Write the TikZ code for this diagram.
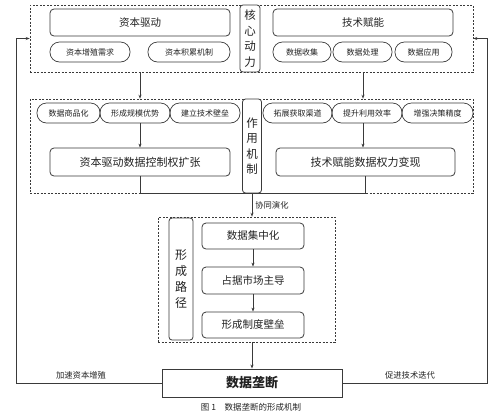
\documentclass[tikz,border=0pt]{standalone}
\usepackage{fontspec}
\setmainfont{Noto Sans CJK SC}
\usetikzlibrary{arrows.meta}
\definecolor{ln}{HTML}{3A3A3A}
\definecolor{tx}{HTML}{222222}
\begin{document}
\begin{tikzpicture}[x=1pt,y=-1pt,
  sz/.style 2 args={minimum width=#1pt, minimum height=#2pt},
  dbox/.style={draw=ln, dash pattern=on 2pt off 1.5pt, line width=0.6pt, inner sep=0pt},
  sbox/.style={draw=ln, rounded corners=4pt, line width=0.8pt, text=tx, font=\fontsize{10.5}{12}\selectfont, inner sep=0pt},
  pill/.style={draw=ln, rounded corners=9.5pt, line width=0.7pt, text=tx, font=\fontsize{8}{9}\selectfont, inner sep=0pt},
  vlab/.style={draw=ln, fill=white, rounded corners=3pt, line width=0.8pt, text=tx, align=center, font=\fontsize{11.5}{15.5}\selectfont, inner sep=0pt},
  lab/.style={text=tx, font=\fontsize{8.3}{9}\selectfont, inner sep=1pt},
  arr/.style={draw=ln, line width=0.7pt, -{Stealth[length=4pt,width=3pt]}},
  con/.style={draw=ln, line width=0.7pt}]
\useasboundingbox (0,0) rectangle (500,413);
% top block
\node[dbox, sz={443}{67}] (top) at (251.5,38.5) {};
\node[vlab, sz={20}{67}] (core) at (250,38.5) {核\\心\\动\\力};
\node[sbox, sz={180}{27}] (zbqd) at (140,22.5) {资本驱动};
\node[pill, sz={80}{20}] (p1) at (90,52) {资本增殖需求};
\node[pill, sz={82}{20}] (p2) at (189,52) {资本积累机制};
\node[sbox, sz={180}{27}] (jsfn) at (363,22.5) {技术赋能};
\node[pill, sz={58}{20}] (p3) at (302,52) {数据收集};
\node[pill, sz={59}{20}] (p4) at (362.5,52) {数据处理};
\node[pill, sz={57}{20}] (p5) at (423.5,52) {数据应用};
% middle block
\node[dbox, sz={443}{94}] (mid) at (251.5,146) {};
\node[vlab, sz={19}{94}] (role) at (252,146) {作\\用\\机\\制};
\node[pill, sz={63}{20}] (p6) at (68.5,113) {数据商品化};
\node[pill, sz={70}{20}] (p7) at (135,113) {形成规模优势};
\node[pill, sz={70}{20}] (p8) at (205,113) {建立技术壁垒};
\node[pill, sz={69}{20}] (p9) at (297.5,113) {拓展获取渠道};
\node[pill, sz={70}{20}] (p10) at (367,113) {提升利用效率};
\node[pill, sz={71}{20}] (p11) at (437.5,113) {增强决策精度};
\node[sbox, sz={180}{28}, font=\fontsize{11}{12}\selectfont] (b1) at (140,162) {资本驱动数据控制权扩张};
\node[sbox, sz={179}{28}, font=\fontsize{11}{12}\selectfont] (b2) at (365.5,162) {技术赋能数据权力变现};
% lower block
\node[dbox, sz={177}{125}] (low) at (246.5,279.5) {};
\node[vlab, sz={24}{122}, font=\fontsize{12}{16}\selectfont] (path) at (181,279) {形\\成\\路\\径};
\node[sbox, sz={102}{26}] (s1) at (253,236) {数据集中化};
\node[sbox, sz={102}{27}] (s2) at (253,280.5) {占据市场主导};
\node[sbox, sz={102}{26}] (s3) at (253,325) {形成制度壁垒};
% final
\node[draw=ln, line width=0.9pt, sz={180}{28}, text=tx, font=\fontsize{13}{15}\selectfont\bfseries, inner sep=0pt] (fin) at (252,383) {数据垄断};
\node[lab] (l1) at (81,375) {加速资本增殖};
\node[lab] (l2) at (410,375) {促进技术迭代};
\node[text=tx, font=\fontsize{8.5}{10}\selectfont, inner sep=0pt] (cap) at (251,407) {图 1\quad 数据垄断的形成机制};
% connectors
\draw[arr] (top.south -| b1.north) -- (mid.north -| b1.north);
\draw[arr] (top.south -| jsfn.south) -- (mid.north -| jsfn.south);
\draw[arr] (p7.south -| b1.north) -- (b1.north);
\draw[arr] (p10.south -| jsfn.south) -- (b2.north -| jsfn.south);
\draw[con] (b1.south) -- (b1.south |- mid.south) -- (b2.south |- mid.south) -- (b2.south);
\draw[arr] (role.south) -- (role.south |- low.north) node[midway, right, lab, xshift=2pt] (xt) {协同演化};
\draw[arr] (s1) -- (s2);
\draw[arr] (s2) -- (s3);
\draw[arr] (low.south -| fin.north) -- (fin.north);
\draw[arr] (fin.west) -- ++(-145,0) |- (top.west);
\draw[arr] (fin.east) -- ++(145,0) |- (top.east);
\end{tikzpicture}
\end{document}
